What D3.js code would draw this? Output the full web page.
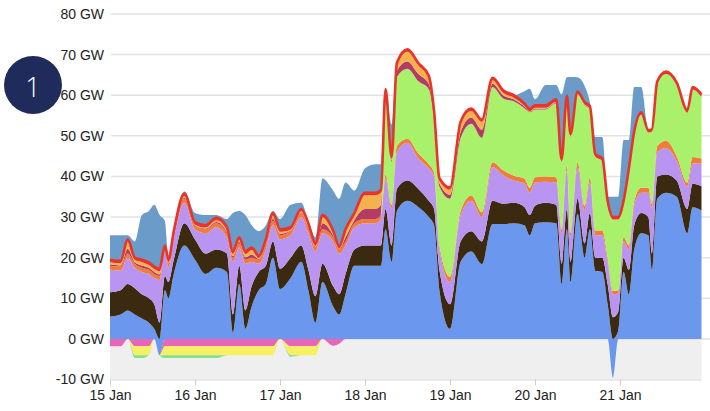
<!DOCTYPE html>
<html><head><meta charset="utf-8">
<script src="https://cdn.jsdelivr.net/npm/d3@7"></script>
<style>
body{margin:0;background:#fff;}
svg{display:block;font-family:"Liberation Sans",Arial,Helvetica,sans-serif;}
</style>
</head><body>
<svg id="chart" width="710" height="411"></svg>
<script>
// hours since 15 Jan 00:00
const hours = [0,3,5,7,9,11,12.5,14,15.5,16.5, 18,21,24,27,30,33,34.7,36.5,38.2,40, 42,44,46,48,51,54,56,58,60,63, 64.7,66.5,69,72,75,76.5,77.8,79.5,81,84, 87,90,91.5,93,96,99,102,105,108,111, 114,117,118.5,120,123,126,127.5,129,130,132, 134,135.5,137,139,140.5,142,143.5,145,146.5,148, 150,152,153,154.5,157,160,163,164.5,167];

const blueSeries = [5.5,6,7,6,5,4,2.5,-4,12,10, 16,23,19.5,16,17.5,16.5,1.5,13.5,2.5,8, 12,13.5,20,12.3,15,19,12,4,14,8, 6,11,18,18,18,18,27,19,31.5,34, 32.5,30,28,12,2.5,19,21.5,18.4,28.3,28.3, 28.5,28,25.5,28.5,28.7,28.5,13.5,27,14,30.8, 20,27,16.8,16.5,8.6,-9.5,2,16.5,11,22, 26,25.5,17,34.5,36,35,26,32.4,31.6];
const brownSeries = [6,6,6.5,6.5,6,6,6,4,3.5,4, 3.5,5.5,5,5,4.5,4.5,4.5,4.5,4.5,5, 4.5,4.5,4,5,5,4,5,6.5,4.5,5, 5,5,4,5,5,5,5,4,5.5,5, 4.5,4,4,5,6,5,5,5.6,5.7,5, 5,4.5,5,4.3,4.8,4.5,5,5,5,3.7, 3.5,4,3.2,3.5,4.9,5.3,4.7,3.5,6,6, 5,4.5,4,5.5,4.5,4,6,5.8,6];
const purpleSeries = [5.5,4.8,6.5,5,5.5,6,6.5,10.5,6,3.5, 5,5,2.5,5,5.5,4,13,4.5,11.5,6, 2,4,4,7.2,5.5,7,9,11,7.5,11, 10,7,5.5,5.5,5.5,6.5,7.5,9,9,9.3, 7.5,8,8,5,5.5,6.5,7.5,6,8.3,7, 5.5,5.8,5.5,5.7,5.2,5.5,7.5,9.5,6,7.7, 8,7.5,5.5,5.5,5.5,5.7,4.5,4,5,5, 5,6,11.3,6,6.5,4.8,5.5,5,5.6];
const orangeSeries = [1,1,1,1,1,1,1,1,0.9,1, 1,1,1,1,1,1,1,1,1,1, 1,1,1,1,1,1,1,1,1,1, 1,1,1,1,1,1,1,1,1.5,1, 1.2,1,1,1,1.3,1,1.3,1.2,1.2,1.2, 1.2,1.2,1.2,1.3,1.3,1.3,1,1.3,1,1.3, 1.2,1.2,1.2,1.2,1,0.8,0.8,1,1,1, 1.2,1.2,1,1.5,1.8,1.2,1,1.6,1.2];
const greenSeries = [0,0,0,0,0,0,0,0,0,0, 0,0,0,0,0,0,0,0,0,0, 0,0,0,0,0,0,0,0,0,0, 0,0,0,0,0,0,19,10.5,17,17.2, 17.8,18.5,13,14.5,19.2,18,17.7,18.3,18.5,17.7, 18.3,17.3,18.6,16.7,16.5,18.2,16.5,16.2,23.8,16.6, 24.8,16.8,18.2,17.1,13.4,17.6,17.4,8.4,18.4,16.4, 18,13.6,17.7,15.3,16.4,17.5,17.2,16.6,15.2];
const maroonSeries = [0.4,0.3,1.2,0.4,0.6,0.5,0.5,0.4,0,0.2, 0.2,0.3,0,0.2,0.3,0.4,0.4,0.4,0.6,0.8, 0.2,0.4,0.6,0.4,0.2,0.2,0.4,0.2,1.5,0.5, 0.1,1,0.8,2.5,2.5,2.5,0.7,0.4,1.5,1.8, 1.8,1.3,0.8,0.8,1,1.5,1.5,2,0.8,0.8, 0.5,0.4,0.1,0.2,0.2,0.2,0.1,0.2,0.1,0.1, 0.1,0.1,0,0,0,0,0,0,0,0, 0,0,0,0,0,0,0,0,0];
const lightOrangeSeries = [0.5,0.5,1.7,0.5,0.8,0.7,0.7,0.7,0,0.2, 0.2,0.4,0.1,0.2,0.4,0.5,0.5,0.5,0.8,1.1, 0.2,0.5,0.8,0.5,0.2,0.2,0.5,0.2,1.4,0.6, 0.1,1.4,1.1,3.4,3.4,3,0.7,0.3,1.4,2.4, 2.1,1.4,0.7,0.7,1.2,1.9,1.6,1.9,0.9,0.6, 0.4,0.2,0.1,0.2,0.2,0.2,0,0.1,0,0.1, 0.1,0.1,0,0,0,0,0,0,0,0, 0,0,0,0,0,0,0,0,0];
const redSeries = [0.6,0.6,0.6,0.6,0.6,0.6,0.6,0.6,0.6,0.6, 0.6,0.6,0.6,0.6,0.6,0.6,0.6,0.6,0.6,0.6, 0.6,0.6,0.6,0.6,0.6,0.6,0.6,0.6,0.6,0.6, 0.6,0.6,0.6,0.6,0.6,0.6,0.6,0.6,0.6,0.6, 0.6,0.6,0.6,0.6,0.6,0.6,0.6,0.6,0.6,0.6, 0.6,0.6,0.6,0.6,0.6,0.6,0.6,0.6,0.6,0.6, 0.6,0.6,0.6,0.6,0.6,0.6,0.6,0.6,0.6,0.6, 0.6,0.6,0.6,0.6,0.6,0.6,0.6,0.6,0.6];
const steelSeries = [6,6.3,1,4,11,12.7,15.2,13.3,6,0.5, 0.5,0.5,2.3,2.5,0.7,2,9.5,6.5,9,5.5, 6,3.5,0.5,2.5,5.5,1.5,0.5,1.5,9,9.8, 11.7,11.5,5.5,6,7,6.4,0,8,0,0, 0,0,0,0,0,0,0,0,0,0, 0,3,5,1.5,5,3.5,16,4.5,14,3.5, 4,1,4.2,5.3,1,5,5,15,7,11, 6.2,0,0,0,0,0,0,0,0];
const pinkSeries = [-1.8,-1.8,0,-1.8,-1.8,-1.8,0,0,-1.8,-1.8, -1.8,-1.8,-1.8,-1.8,-1.8,-1.8,-1.8,-1.8,-1.8,-1.8, -1.8,-1.8,-1.8,0,-1.8,-1.8,-1.8,-1.8,0,-1.7, -1.2,0,0,0,0,0,0,0,0,0, 0,0,0,0,0,0,0,0,0,0, 0,0,0,0,0,0,0,0,0,0, 0,0,0,0,0,0,0,0,0,0, 0,0,0,0,0,0,0,0,0];
const yellowSeries = [0,0,0,-2.2,-2.2,-2.2,0,0,-2.2,-2.2, -2.2,-2.2,-2.2,-2.2,-2.2,-2.2,-2.2,-2.2,-2.2,-2.2, -2.2,-2.2,-2.2,0,-2.2,-2.2,-2.2,-2.2,0,0, 0,0,0,0,0,0,0,0,0,0, 0,0,0,0,0,0,0,0,0,0, 0,0,0,0,0,0,0,0,0,0, 0,0,0,0,0,0,0,0,0,0, 0,0,0,0,0,0,0,0,0];
const paleGreenSeries = [0,0,0,-0.7,-0.7,0,0,0,-0.7,-0.7, -0.7,-0.7,-0.7,-0.7,-0.7,0,0,0,0,0, 0,0,0,0,-0.4,0,0,0,0,0, 0,0,0,0,0,0,0,0,0,0, 0,0,0,0,0,0,0,0,0,0, 0,0,0,0,0,0,0,0,0,0, 0,0,0,0,0,0,0,0,0,0, 0,0,0,0,0,0,0,0,0];

const yTickValues = [-10,0,10,20,30,40,50,60,70,80];
const dayTickHours = [0,24,48,72,96,120,144];
const dayTickLabels = ["15 Jan","16 Jan","17 Jan","18 Jan","19 Jan","20 Jan","21 Jan"];

const layers = [
  {key:"blue", values:blueSeries, color:"#6b97ee"},
  {key:"brown", values:brownSeries, color:"#3c2a10"},
  {key:"purple", values:purpleSeries, color:"#b995f1"},
  {key:"orange", values:orangeSeries, color:"#f07c3a"},
  {key:"green", values:greenSeries, color:"#a9f06b"},
  {key:"maroon", values:maroonSeries, color:"#b23c66"},
  {key:"lightorange", values:lightOrangeSeries, color:"#f4b24e"},
  {key:"red", values:redSeries, color:"#e8342b"},
  {key:"steel", values:steelSeries, color:"#6a9bc9"},
  {key:"pink", values:pinkSeries, color:"#e766b8"},
  {key:"yellow", values:yellowSeries, color:"#f8f063"},
  {key:"palegreen", values:paleGreenSeries, color:"#80e08e"}
];
const negKeys = new Set(["pink","yellow","palegreen"]);

const rows = hours.map((h,i)=>{
  const r = {h};
  layers.forEach(l=>{ r[l.key] = l.values[i]; });
  return r;
});

function offsetSigned(series, order){
  const n = series.length, m = series[0].length;
  for(let j=0;j<m;j++){
    let pos=0, neg=0;
    for(let i=0;i<n;i++){
      const s = series[order[i]], d = s[j];
      const v = d[1]-d[0];
      if (v<0 || (v===0 && negKeys.has(s.key))) { d[1]=neg; neg+=v; d[0]=neg; }
      else { d[0]=pos; pos+=v; d[1]=pos; }
    }
  }
}

const stacked = d3.stack().keys(layers.map(l=>l.key)).offset(offsetSigned)(rows);

const svg = d3.select("#chart");
const x = d3.scaleLinear().domain([0,167]).range([110,701.5]);
const y = d3.scaleLinear().domain([-10,80]).range([379.5,14]);

// negative zone background
svg.append("rect").attr("x",x(0)).attr("y",y(0)).attr("width",x(167)-x(0)).attr("height",y(-10)-y(0)).attr("fill","#efefef");

// grid
svg.append("g").selectAll("line").data(yTickValues.filter(v=>v>=0)).join("line")
  .attr("x1",111).attr("x2",710).attr("y1",d=>y(d)).attr("y2",d=>y(d))
  .attr("stroke","#e2e2e2").attr("stroke-width",1.5);

const area = d3.area().x(d=>x(d.data.h)).y0(d=>y(d[0])).y1(d=>y(d[1])).curve(d3.curveMonotoneX);
svg.append("g").selectAll("path").data(stacked).join("path")
  .attr("d",area).attr("fill",(d,i)=>layers[i].color);

// red line on top of red band
const redStack = stacked.find(s=>s.key==="red");
const line = d3.line().x(d=>x(d.data.h)).y(d=>y(d[1])).curve(d3.curveMonotoneX);
svg.append("path").datum(redStack).attr("d",line).attr("fill","none")
  .attr("stroke","#e8342b").attr("stroke-width",2.6).attr("stroke-linejoin","round");

// bottom axis
const xAxis = d3.axisBottom(x).tickValues(dayTickHours).tickFormat((d,i)=>dayTickLabels[i]).tickSize(6).tickPadding(5);
const gx = svg.append("g").attr("transform",`translate(0,${y(-10)})`).call(xAxis);
gx.select(".domain").attr("stroke","#d8d8d8").attr("d",`M${x(0)},0.5H${x(167)}`);
gx.selectAll(".tick line").attr("stroke","#cfcfcf");
gx.selectAll("text").attr("fill","#222").style("font-size","14px").style("font-family","'Liberation Sans',Arial,sans-serif");

// left labels
const yAxis = d3.axisLeft(y).tickValues(yTickValues).tickFormat(d=>d+" GW").tickSize(0).tickPadding(4);
const gy = svg.append("g").attr("transform",`translate(${108},0)`).call(yAxis);
gy.select(".domain").remove();
gy.selectAll("text").attr("fill","#222").style("font-size","14px").style("font-family","'Liberation Sans',Arial,sans-serif");

// badge
svg.append("circle").attr("cx",33).attr("cy",85).attr("r",29).attr("fill","#1f2b5b");
svg.append("text").attr("x",33).attr("y",86).attr("text-anchor","middle").attr("dominant-baseline","central")
  .attr("fill","#fff").style("font-size","27px").style("font-family","'Open Sans',Arial,sans-serif").style("font-weight","300").text("1");
</script>
</body></html>
